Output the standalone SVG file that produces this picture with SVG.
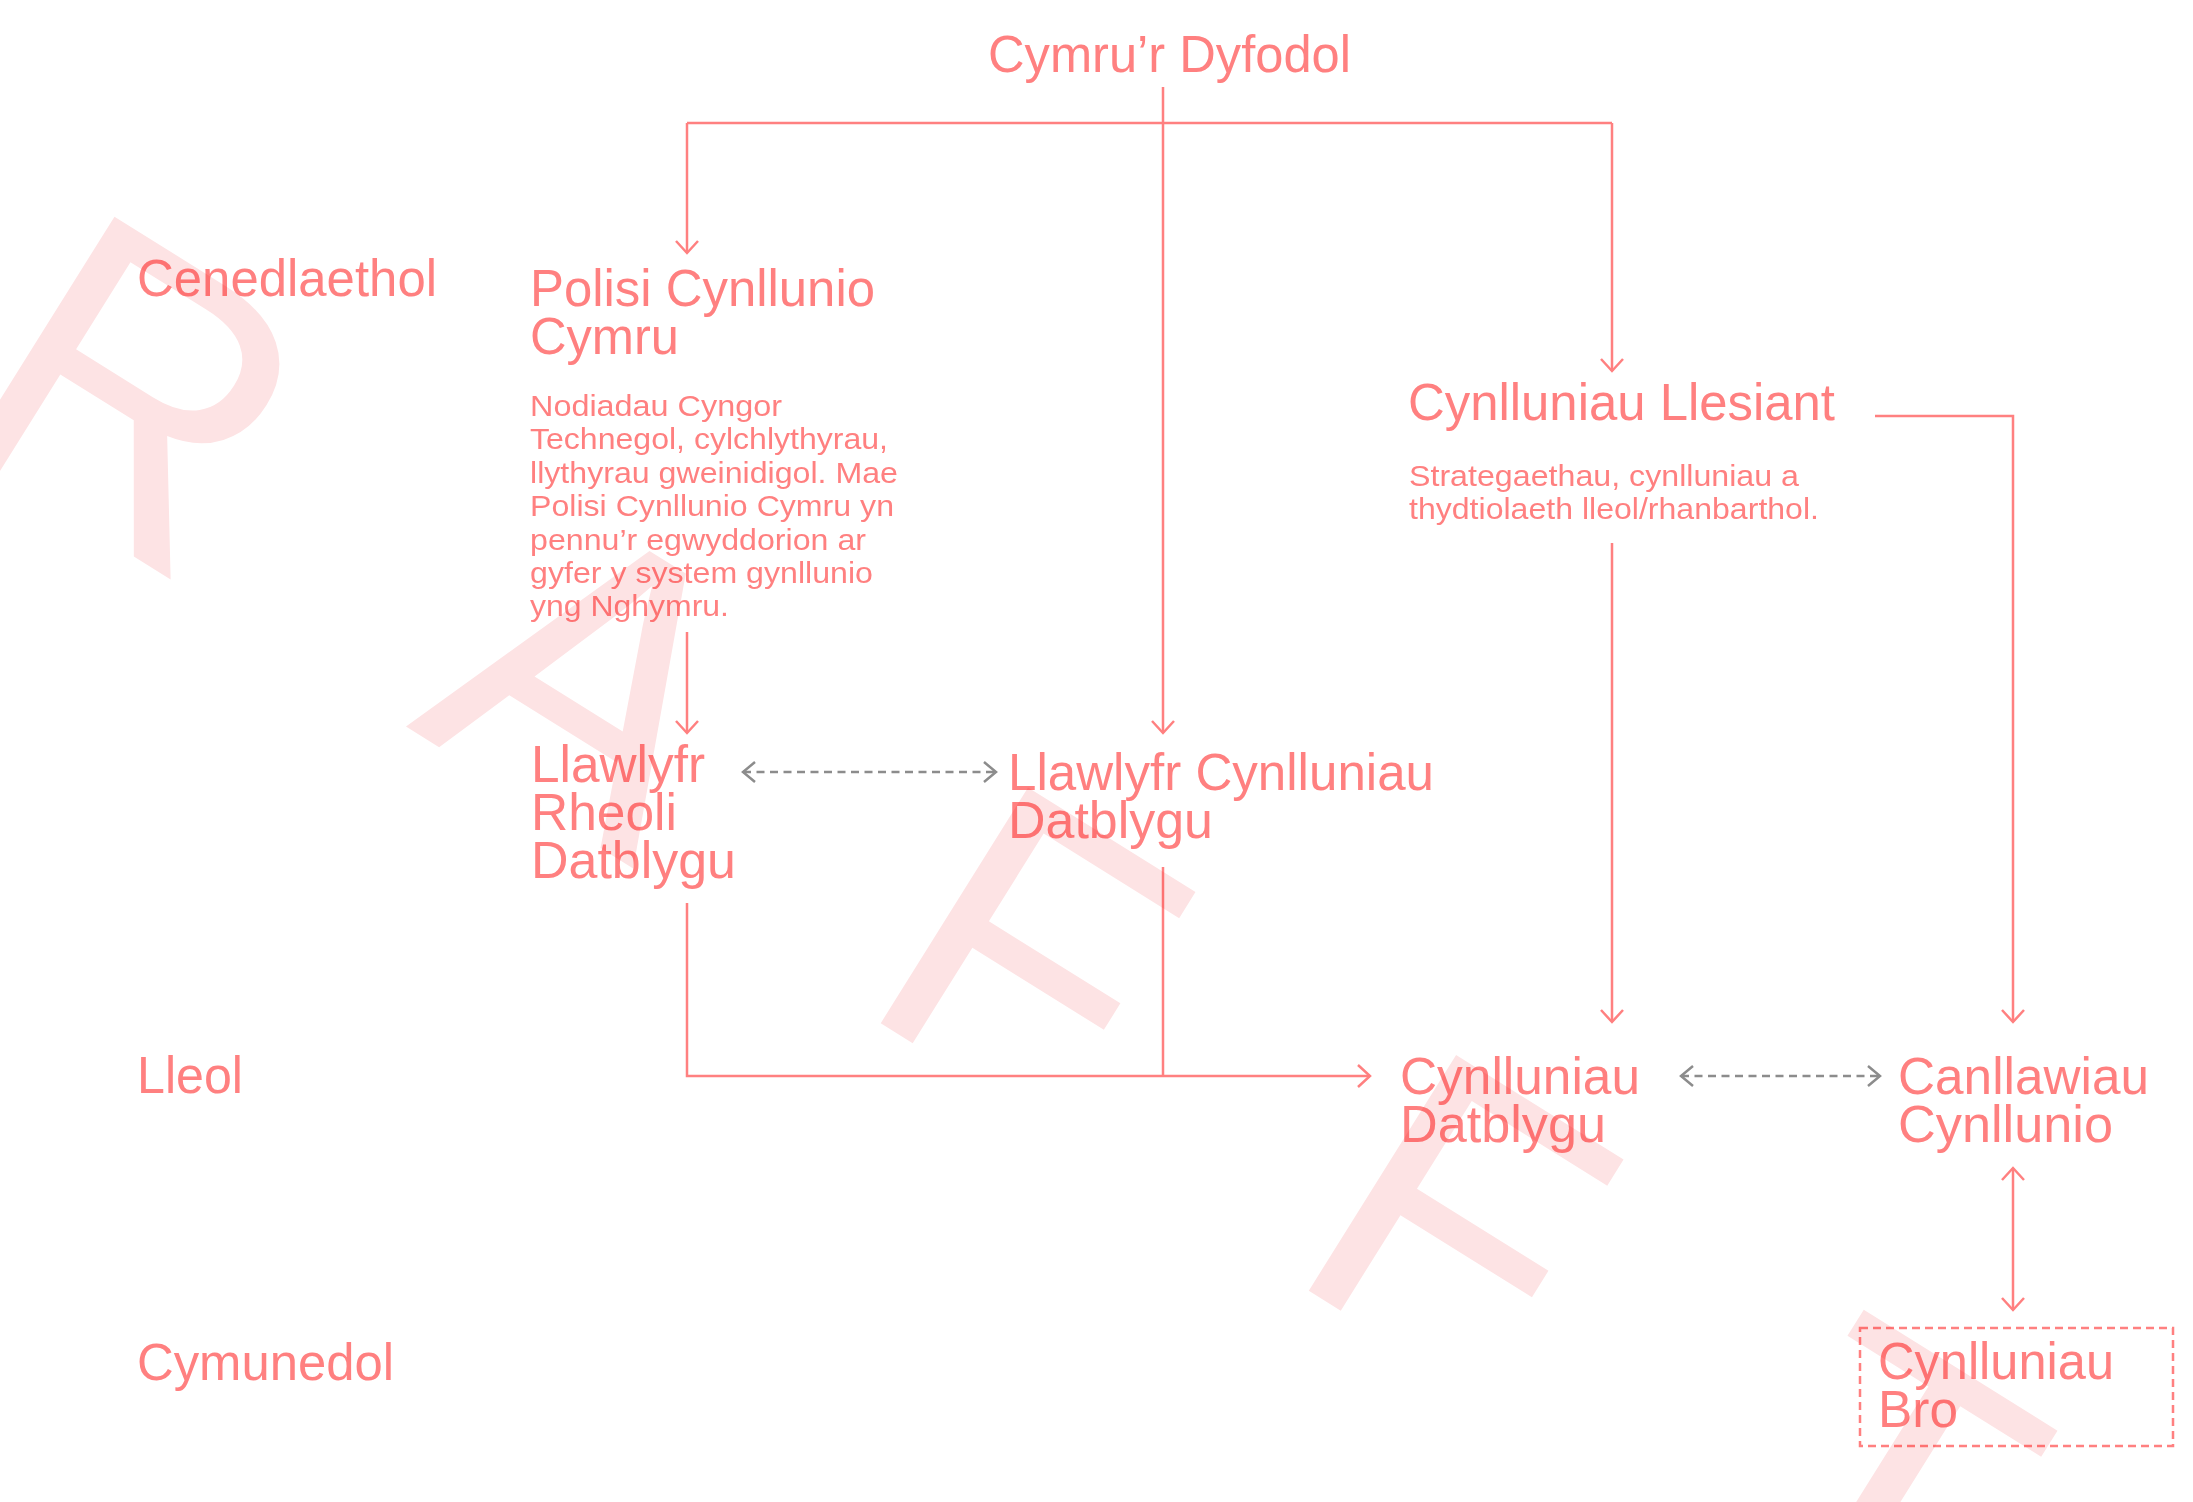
<svg xmlns="http://www.w3.org/2000/svg" width="2193" height="1502" viewBox="0 0 2193 1502">
<style>
text{font-family:"Liberation Sans",Arial,Helvetica,sans-serif;fill:#ff8080}
.h{font-size:52px}
.b{font-size:30px}
.wm{font-size:404px;fill:#fde3e4;letter-spacing:258px}
.ln{fill:none;stroke:#ff8080;stroke-width:2.5}
.dg{fill:none;stroke:#8c8c8c;stroke-width:2.5;stroke-dasharray:8 5.5}
.box{fill:none;stroke:#ff8080;stroke-width:2.5;stroke-dasharray:8 5}
.fg{mix-blend-mode:multiply}
</style>
<defs>
<marker id="ap" markerUnits="userSpaceOnUse" markerWidth="30" markerHeight="30" viewBox="-15 -15 30 30" refX="0" refY="0" orient="auto-start-reverse">
<path d="M-12,-11 L0,0 L-12,11" fill="none" stroke="#ff8080" stroke-width="2.5"/>
</marker>
<marker id="ag" markerUnits="userSpaceOnUse" markerWidth="30" markerHeight="30" viewBox="-15 -15 30 30" refX="0" refY="0" orient="auto-start-reverse">
<path d="M-12,-10 L0,0 L-12,10" fill="none" stroke="#8c8c8c" stroke-width="2.5"/>
</marker>
</defs>
<rect width="2193" height="1502" fill="#ffffff"/>
<g id="watermark">
<text class="wm" transform="rotate(32)" x="-371" y="401">DRAFFT</text>
</g>
<g class="fg">
<g id="levels">
<text class="h" x="137" y="296" textLength="300" lengthAdjust="spacingAndGlyphs">Cenedlaethol</text>
<text class="h" x="137" y="1093" textLength="106" lengthAdjust="spacingAndGlyphs">Lleol</text>
<text class="h" x="137" y="1380" textLength="257" lengthAdjust="spacingAndGlyphs">Cymunedol</text>
</g>
<g id="connectors">
<path class="ln" d="M1163,87 V733" marker-end="url(#ap)"/>
<path class="ln" d="M687,123 H1612"/>
<path class="ln" d="M687,123 V253" marker-end="url(#ap)"/>
<path class="ln" d="M1612,123 V371" marker-end="url(#ap)"/>
<path class="ln" d="M687,632 V733" marker-end="url(#ap)"/>
<path class="ln" d="M1612,543 V1022" marker-end="url(#ap)"/>
<path class="ln" d="M1875,416 H2013 V1022" marker-end="url(#ap)"/>
<path class="ln" d="M687,903 V1076 H1370" marker-end="url(#ap)"/>
<path class="ln" d="M1163,867 V1076"/>
<path class="ln" d="M2013,1168 V1310" marker-start="url(#ap)" marker-end="url(#ap)"/>
<path class="dg" d="M743,772 H996" marker-start="url(#ag)" marker-end="url(#ag)"/>
<path class="dg" d="M1681,1076 H1880" marker-start="url(#ag)" marker-end="url(#ag)"/>
</g>
<g id="cymru-dyfodol">
<text class="h" x="988" y="72" textLength="363" lengthAdjust="spacingAndGlyphs">Cymru’r Dyfodol</text>
</g>
<g id="polisi-cynllunio-cymru">
<text class="h" x="530" y="306" textLength="345" lengthAdjust="spacingAndGlyphs">Polisi Cynllunio</text>
<text class="h" x="530" y="354" textLength="149" lengthAdjust="spacingAndGlyphs">Cymru</text>
<text class="b" x="530" y="416" textLength="252" lengthAdjust="spacingAndGlyphs">Nodiadau Cyngor</text>
<text class="b" x="530" y="449.4" textLength="358" lengthAdjust="spacingAndGlyphs">Technegol, cylchlythyrau,</text>
<text class="b" x="530" y="482.8" textLength="368" lengthAdjust="spacingAndGlyphs">llythyrau gweinidigol. Mae</text>
<text class="b" x="530" y="516.2" textLength="364" lengthAdjust="spacingAndGlyphs">Polisi Cynllunio Cymru yn</text>
<text class="b" x="530" y="549.6" textLength="336" lengthAdjust="spacingAndGlyphs">pennu’r egwyddorion ar</text>
<text class="b" x="530" y="583" textLength="343" lengthAdjust="spacingAndGlyphs">gyfer y system gynllunio</text>
<text class="b" x="530" y="616.4" textLength="199" lengthAdjust="spacingAndGlyphs">yng Nghymru.</text>
</g>
<g id="cynlluniau-llesiant">
<text class="h" x="1408" y="420" textLength="427" lengthAdjust="spacingAndGlyphs">Cynlluniau Llesiant</text>
<text class="b" x="1409" y="486" textLength="390" lengthAdjust="spacingAndGlyphs">Strategaethau, cynlluniau a</text>
<text class="b" x="1409" y="519" textLength="410" lengthAdjust="spacingAndGlyphs">thydtiolaeth lleol/rhanbarthol.</text>
</g>
<g id="llawlyfr-rheoli-datblygu">
<text class="h" x="531" y="782" textLength="174" lengthAdjust="spacingAndGlyphs">Llawlyfr</text>
<text class="h" x="531" y="830" textLength="146" lengthAdjust="spacingAndGlyphs">Rheoli</text>
<text class="h" x="531" y="878" textLength="205" lengthAdjust="spacingAndGlyphs">Datblygu</text>
</g>
<g id="llawlyfr-cynlluniau-datblygu">
<text class="h" x="1008" y="790" textLength="426" lengthAdjust="spacingAndGlyphs">Llawlyfr Cynlluniau</text>
<text class="h" x="1008" y="838" textLength="205" lengthAdjust="spacingAndGlyphs">Datblygu</text>
</g>
<g id="cynlluniau-datblygu">
<text class="h" x="1400" y="1094" textLength="240" lengthAdjust="spacingAndGlyphs">Cynlluniau</text>
<text class="h" x="1400" y="1142" textLength="206" lengthAdjust="spacingAndGlyphs">Datblygu</text>
</g>
<g id="canllawiau-cynllunio">
<text class="h" x="1898" y="1094" textLength="251" lengthAdjust="spacingAndGlyphs">Canllawiau</text>
<text class="h" x="1898" y="1142" textLength="215" lengthAdjust="spacingAndGlyphs">Cynllunio</text>
</g>
<g id="cynlluniau-bro">
<rect class="box" x="1860" y="1328" width="313" height="118"/>
<text class="h" x="1878" y="1379" textLength="236" lengthAdjust="spacingAndGlyphs">Cynlluniau</text>
<text class="h" x="1878" y="1427" textLength="80" lengthAdjust="spacingAndGlyphs">Bro</text>
</g>
</g>
</svg>
